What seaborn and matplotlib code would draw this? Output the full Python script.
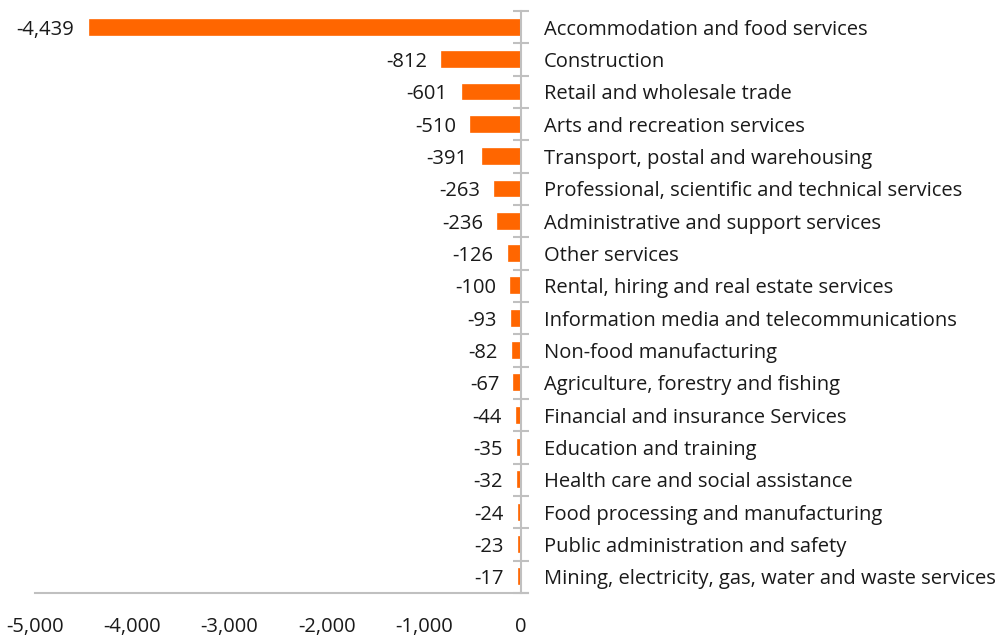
import matplotlib
matplotlib.use("Agg")
import matplotlib.pyplot as plt
import seaborn as sns
import numpy as np

categories = [
    "Accommodation and food services",
    "Construction",
    "Retail and wholesale trade",
    "Arts and recreation services",
    "Transport, postal and warehousing",
    "Professional, scientific and technical services",
    "Administrative and support services",
    "Other services",
    "Rental, hiring and real estate services",
    "Information media and telecommunications",
    "Non-food manufacturing",
    "Agriculture, forestry and fishing",
    "Financial and insurance Services",
    "Education and training",
    "Health care and social assistance",
    "Food processing and manufacturing",
    "Public administration and safety",
    "Mining, electricity, gas, water and waste services",
]
values = [-4439, -812, -601, -510, -391, -263, -236, -126, -100, -93,
          -82, -67, -44, -35, -32, -24, -23, -17]
x_ticks = [-5000, -4000, -3000, -2000, -1000, 0]

sns.set_style("white")
plt.rcParams['font.family'] = ['Open Sans', 'DejaVu Sans']
text_col = "#1a1a1a"
grey = "#c0c0c0"
fs = 14.5

fig = plt.figure(figsize=(10, 6.38), dpi=100)
ax = fig.add_axes([0.035, 0.0705, 0.4928, 0.912])

sns.barplot(x=values, y=categories, orient="h", color="#FF6600",
            saturation=1, width=0.46, ax=ax, linewidth=1.2,
            edgecolor="#FF6600", zorder=3)

ax.set_xlim(-5000, 70)
ax.set_ylim(len(categories) - 0.5, -0.5)

# value labels left of each bar
for i, v in enumerate(values):
    ax.annotate(f"{v:,}", (v, i), xytext=(-11, 0), textcoords="offset points",
                ha="right", va="center_baseline", fontsize=fs, color=text_col)

for s in ["top", "left"]:
    ax.spines[s].set_visible(False)
ax.spines["right"].set_position(("data", 0))
for s in ["right", "bottom"]:
    ax.spines[s].set_color(grey)
    ax.spines[s].set_linewidth(1.5)
    ax.spines[s].set_zorder(4)

ax.set_xticks(x_ticks)
ax.set_xticklabels([f"{t:,}" for t in x_ticks])
ax.tick_params(axis="x", direction="inout", length=14, width=1.5, color=grey,
               labelsize=fs, labelcolor=text_col, pad=10)

ax.yaxis.tick_right()
ax.set_yticks(np.arange(len(categories) + 1) - 0.5)
ax.set_yticklabels([])
ax.set_yticks(np.arange(len(categories)), minor=True)
ax.set_yticklabels(categories, minor=True)
ax.tick_params(axis="y", which="major", direction="inout", length=12,
               width=1.5, color=grey)
ax.tick_params(axis="y", which="minor", length=0, pad=16.5,
               labelsize=fs, labelcolor=text_col)
ax.set_xlabel("")
ax.set_ylabel("")

fig.savefig("out.png", dpi=100)
